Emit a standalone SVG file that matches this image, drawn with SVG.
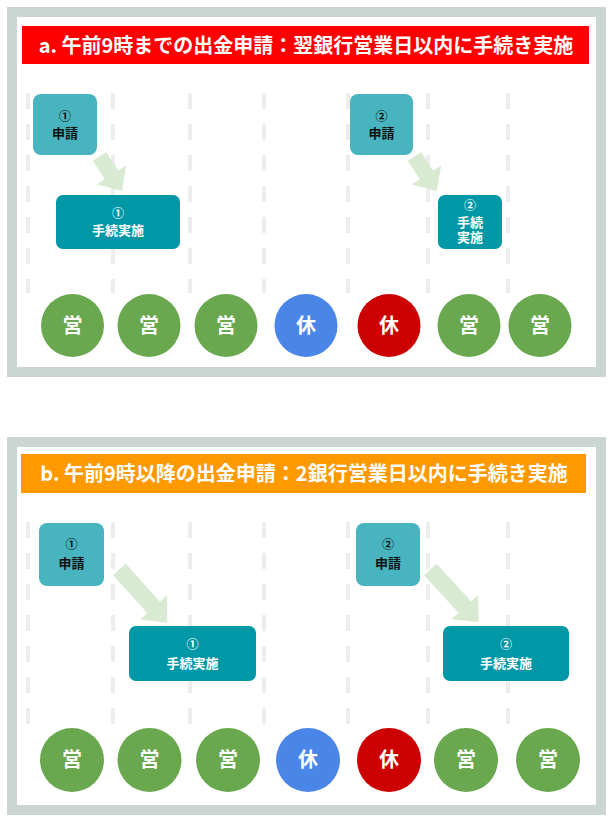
<svg xmlns="http://www.w3.org/2000/svg" width="615" height="821" viewBox="0 0 615 821">
<style>
.panel{fill:#ffffff;stroke:#cbd5d2;stroke-width:10}
.title{font-family:"Noto Sans CJK JP","Noto Sans",sans-serif;font-weight:bold;font-size:20px;fill:#ffffff;text-anchor:middle}
.dash{stroke:#ededed;stroke-width:4;stroke-dasharray:16 15;fill:none}
.req{fill:#47b4bf}
.exec{fill:#0097a7}
.t{font-family:"Noto Sans CJK JP","Noto Sans",sans-serif;font-weight:bold;font-size:13px;text-anchor:middle}
.n{font-size:12px}
.tb{fill:#111111}
.tw{fill:#ffffff}
.day{font-family:"Noto Sans CJK JP","Noto Sans",sans-serif;font-weight:bold;font-size:20px;fill:#ffffff;text-anchor:middle}
.g{fill:#6aa84f}
.b{fill:#4a86e8}
.r{fill:#cc0000}
.arrow{fill:#d9ead3}
</style>

<!-- Panel a -->
<g id="panel-a">
<rect class="panel" x="12" y="12" width="589" height="360"/>
<rect x="22" y="26" width="567" height="38" fill="#ff0000"/>
<text class="title" x="306" y="52.5">a. 午前9時までの出金申請：翌銀行営業日以内に手続き実施</text>
</g>
<g id="grid-a">
<line class="dash" x1="28" y1="93" x2="28" y2="293"/>
<line class="dash" x1="113" y1="93" x2="113" y2="293"/>
<line class="dash" x1="190" y1="93" x2="190" y2="293"/>
<line class="dash" x1="264" y1="93" x2="264" y2="293"/>
<line class="dash" x1="348" y1="93" x2="348" y2="293"/>
<line class="dash" x1="428" y1="93" x2="428" y2="293"/>
<line class="dash" x1="508" y1="93" x2="508" y2="293"/>
</g>

<!-- Panel b -->
<g id="panel-b">
<rect class="panel" x="12" y="442" width="589" height="368"/>
<rect x="21" y="454" width="565" height="39" fill="#ff9900"/>
<text class="title" x="304" y="480.5">b. 午前9時以降の出金申請：2銀行営業日以内に手続き実施</text>
</g>
<g id="grid-b">
<line class="dash" x1="28" y1="522" x2="28" y2="724"/>
<line class="dash" x1="113" y1="522" x2="113" y2="724"/>
<line class="dash" x1="190" y1="522" x2="190" y2="724"/>
<line class="dash" x1="264" y1="522" x2="264" y2="724"/>
<line class="dash" x1="348" y1="522" x2="348" y2="724"/>
<line class="dash" x1="428" y1="522" x2="428" y2="724"/>
<line class="dash" x1="508" y1="522" x2="508" y2="724"/>
</g>

<!-- Connectors -->
<g id="connectors">
<polygon class="arrow" transform="translate(99.5,156.5) rotate(57)" points="0,-8 22,-8 22,-17.5 41,0 22,17.5 22,8 0,8"/>
<polygon class="arrow" transform="translate(414.5,156.5) rotate(57)" points="0,-8 22,-8 22,-17.5 41,0 22,17.5 22,8 0,8"/>
<polygon class="arrow" transform="translate(119.5,569.5) rotate(48)" points="0,-8.5 51,-8.5 51,-18 71.5,0 51,18 51,8.5 0,8.5"/>
<polygon class="arrow" transform="translate(430.3,569.5) rotate(47.5)" points="0,-8.5 51,-8.5 51,-18 71.5,0 51,18 51,8.5 0,8.5"/>
</g>

<!-- Panel a nodes -->
<g id="a-req1">
<rect class="req" x="33" y="94" width="64" height="61" rx="8"/>
<text class="t n tb" x="65" y="120.5">①</text>
<text class="t tb" x="65" y="138">申請</text>
</g>
<g id="a-exec1">
<rect class="exec" x="56" y="195" width="124" height="54" rx="7"/>
<text class="t n tw" x="118" y="217.5">①</text>
<text class="t tw" x="118" y="235">手続実施</text>
</g>
<g id="a-req2">
<rect class="req" x="350" y="94" width="63" height="61" rx="8"/>
<text class="t n tb" x="381.5" y="120.5">②</text>
<text class="t tb" x="381.5" y="138">申請</text>
</g>
<g id="a-exec2">
<rect class="exec" x="438" y="195" width="64" height="54" rx="7"/>
<text class="t n tw" x="470" y="210">②</text>
<text class="t tw" x="470" y="226.5">手続</text>
<text class="t tw" x="470" y="242">実施</text>
</g>
<g id="a-days">
<circle class="g" cx="72.5" cy="325.5" r="31.5"/><text class="day" x="72.5" y="332.7">営</text>
<circle class="g" cx="149" cy="325.5" r="31.5"/><text class="day" x="149" y="332.7">営</text>
<circle class="g" cx="226" cy="325.5" r="31.5"/><text class="day" x="226" y="332.7">営</text>
<circle class="b" cx="306" cy="325.5" r="31.5"/><text class="day" x="306" y="332.7">休</text>
<circle class="r" cx="389" cy="325.5" r="31.5"/><text class="day" x="389" y="332.7">休</text>
<circle class="g" cx="469" cy="325.5" r="31.5"/><text class="day" x="469" y="332.7">営</text>
<circle class="g" cx="540" cy="325.5" r="31.5"/><text class="day" x="540" y="332.7">営</text>
</g>

<!-- Panel b nodes -->
<g id="b-req1">
<rect class="req" x="39" y="523" width="65" height="63" rx="8"/>
<text class="t n tb" x="71.5" y="548.5">①</text>
<text class="t tb" x="71.5" y="568">申請</text>
</g>
<g id="b-exec1">
<rect class="exec" x="129" y="626" width="127" height="55" rx="7"/>
<text class="t n tw" x="192.5" y="648.5">①</text>
<text class="t tw" x="192.5" y="668">手続実施</text>
</g>
<g id="b-req2">
<rect class="req" x="356" y="523" width="64" height="63" rx="8"/>
<text class="t n tb" x="388" y="548.5">②</text>
<text class="t tb" x="388" y="568">申請</text>
</g>
<g id="b-exec2">
<rect class="exec" x="443" y="626" width="126" height="55" rx="7"/>
<text class="t n tw" x="506" y="648.5">②</text>
<text class="t tw" x="506" y="668">手続実施</text>
</g>
<g id="b-days">
<circle class="g" cx="72" cy="760" r="32"/><text class="day" x="72" y="767.2">営</text>
<circle class="g" cx="149.5" cy="760" r="32"/><text class="day" x="149.5" y="767.2">営</text>
<circle class="g" cx="228" cy="760" r="32"/><text class="day" x="228" y="767.2">営</text>
<circle class="b" cx="308" cy="760" r="32"/><text class="day" x="308" y="767.2">休</text>
<circle class="r" cx="389" cy="760" r="32"/><text class="day" x="389" y="767.2">休</text>
<circle class="g" cx="466" cy="760" r="32"/><text class="day" x="466" y="767.2">営</text>
<circle class="g" cx="548" cy="760" r="32"/><text class="day" x="548" y="767.2">営</text>
</g>
</svg>
